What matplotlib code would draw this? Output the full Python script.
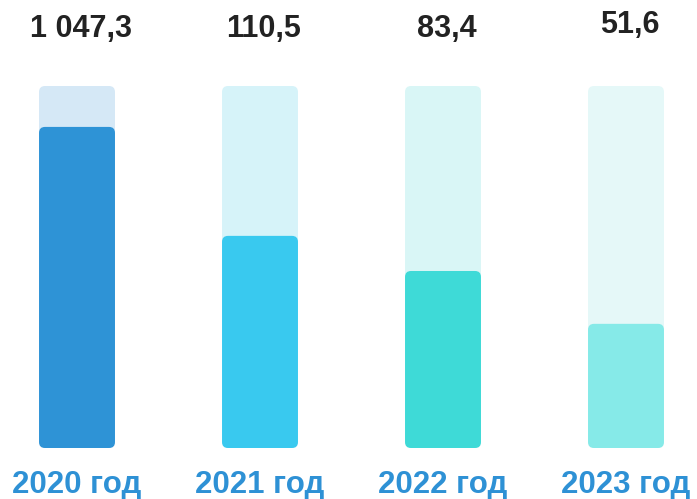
import matplotlib
matplotlib.use("Agg")
import matplotlib.pyplot as plt
from matplotlib.patches import FancyBboxPatch

# data
years = ["2020 год", "2021 год", "2022 год", "2023 год"]
values = ["1 047,3", "110,5", "83,4", "51,6"]
fill = [0.887, 0.586, 0.489, 0.343]   # filled share of each column as drawn
bar_colors = ["#2E93D6", "#39C9EF", "#3EDAD7", "#86EAE8"]
bg_colors = ["#D5E8F6", "#D6F3F9", "#D9F6F6", "#E5F8F8"]

W, H = 697, 499
fig = plt.figure(figsize=(W / 100, H / 100), dpi=100)
ax = fig.add_axes([0, 0, 1, 1])
ax.set_xlim(-0.4208, 3.388)
ax.set_ylim(-0.1409, 1.2376)
ax.axis("off")

width = 0.415
px_x = 1 / 183   # x units per pixel
px_y = 1 / 362   # y units per pixel
aspect = px_y / px_x
r = 6 * px_x


def rbar(x, h, color):
    p = FancyBboxPatch((x - width / 2, 0), width, h,
                       boxstyle=f"round,pad=0,rounding_size={r}",
                       mutation_aspect=aspect, fc=color, ec="none")
    ax.add_patch(p)


for i in range(len(years)):
    rbar(i, 1.0, bg_colors[i])
    rbar(i, fill[i], bar_colors[i])
    vy = 1.146 if i == 3 else 1.135
    ax.text(i + 0.02, vy, values[i], ha="center", va="baseline",
            fontsize=22, fontweight="bold", color="#222222",
            family="Liberation Sans")
    ax.text(i, -0.125, years[i], ha="center", va="baseline",
            fontsize=22.5, fontweight="bold", color="#2E91D5",
            family="Liberation Sans")

fig.savefig("out.png", dpi=100)
